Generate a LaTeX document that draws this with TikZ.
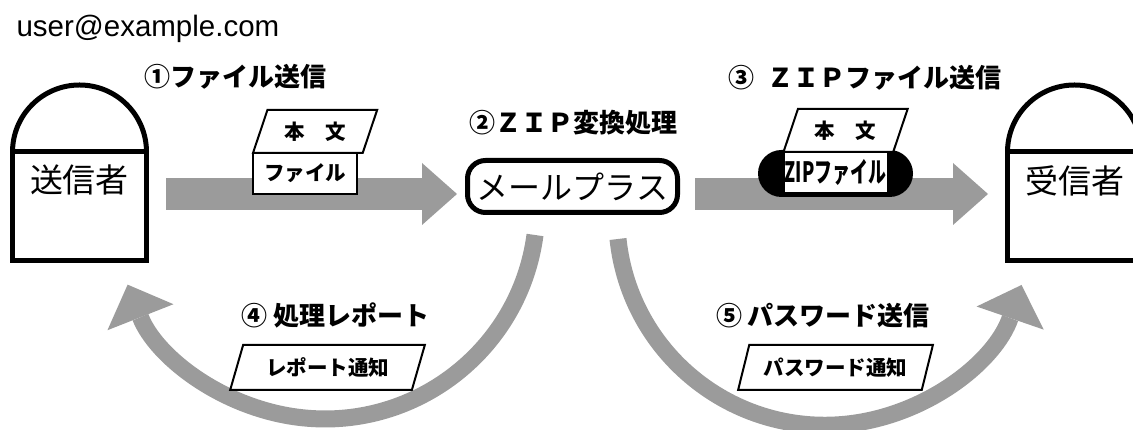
\documentclass[tikz,border=0pt]{standalone}
\usepackage{fontspec}
\setmainfont{Liberation Sans}
\newfontfamily\jp{Noto Sans CJK JP}
\usepackage{tikz}
\usetikzlibrary{positioning, arrows.meta, shapes.geometric}
\definecolor{arrowgray}{RGB}{155,155,155}
\tikzset{
person/.style={draw, line width=5pt, minimum width=134pt, minimum height=108.5pt, inner sep=0pt, outer sep=0pt}, % body of a sender or receiver
server/.style={draw, line width=5pt, rounded corners=18pt, minimum width=210pt, minimum height=52pt, font=\jp\fontsize{32}{36}\selectfont}, % the mail gateway box
bigarrow/.style={draw=arrowgray, line width=32pt, -{Triangle[length=35pt, width=62pt, line width=0pt]}}, % straight gray arrows
curvearrow/.style={draw=arrowgray, line width=17pt, -{Triangle[length=35pt, width=71pt, line width=0pt]}}, % curved gray arrows
steplabel/.style={font=\jp\bfseries\fontsize{26}{30}\selectfont}, % numbered step captions
card/.style={trapezium, draw, fill=white, line width=2pt, trapezium left angle=64.5, trapezium right angle=115.5, trapezium stretches=true, inner sep=0pt, outer sep=0pt, font=\jp\bfseries\fontsize{20.5}{24}\selectfont}, % slanted message cards
filebox/.style={draw, fill=white, line width=2pt, minimum width=104pt, minimum height=41pt, inner sep=0pt, outer sep=0pt, font=\jp\bfseries\fontsize{20.5}{24}\selectfont}, % attachment box
}

\begin{document}
\begin{tikzpicture}[x=1pt, y=1pt]
    \useasboundingbox (0,0) rectangle (1133,430);

    % Sender, gateway and receiver
    \node[anchor=base west, font=\fontsize{29.5}{33}\selectfont] (addr) at (13,393) {user@example.com};
    \node[person] (sender) at (79.5,223.75) {};
    \draw[line width=5pt] (sender.north west) arc[start angle=180, end angle=0, radius=67pt];
    \node[font=\jp\fontsize{33}{38}\selectfont] (sendertext) at ([yshift=-28pt]sender.north) {送信者};
    \node[person] (receiver) at (1074.5,223.75) {};
    \draw[line width=5pt] (receiver.north west) arc[start angle=180, end angle=0, radius=67pt];
    \node[font=\jp\fontsize{33}{38}\selectfont] (receivertext) at ([yshift=-29pt]receiver.north) {受信者};
    \node[server] (mail) at (572.5,243.5) {メールプラス};

    % Arrows
    \draw[bigarrow] ([shift={(19.5pt,12.25pt)}]sender.east) -- ([shift={(-8pt,-7.5pt)}]mail.west);
    \draw[bigarrow] ([shift={(15pt,-7.5pt)}]mail.east) -- ([shift={(-19.5pt,12.25pt)}]receiver.west);
    \draw[curvearrow] ([shift={(-37.5pt,-20pt)}]mail.south) arc[start angle=-7.6, end angle=-158.5, radius=212pt];
    \draw[curvearrow] ([shift={(45.5pt,-24pt)}]mail.south) arc[start angle=186, end angle=341, radius=208pt];

    % Step captions
    \node[steplabel] (step1) at (235.5,353.5) {①ファイル送信};
    \node[steplabel] (step2) at (573.5,307.5) {②ＺＩＰ変換処理};
    \node[steplabel] (step3) at (864.5,352) {③\hspace{0.5em}ＺＩＰファイル送信};
    \node[steplabel] (step4) at (335.5,115) {④ 処理レポート};
    \node[steplabel] (step5) at (823,114) {⑤ パスワード送信};

    % Messages
    \node[filebox] (file1) at (305,256.5) {ファイル};
    \node[card, minimum width=125pt, minimum height=43pt, anchor=bottom left corner] (body1) at (file1.north west) {本　文};
    \node[fill=black, rounded corners=23.5pt, minimum width=155pt, minimum height=47pt, inner sep=0pt] (zipcap) at (835.5,256.5) {};
    \node[filebox, font=\jp\bfseries\fontsize{28}{32}\selectfont] (zip) at (835.5,257.5) {\scalebox{0.64}[1]{ZIPファイル}};
    \node[card, minimum width=125pt, minimum height=43pt, anchor=bottom left corner] (body2) at (zip.north west) {本　文};
    \node[card, minimum width=195pt, minimum height=45pt] (report) at (327.5,62.5) {レポート通知};
    \node[card, minimum width=195pt, minimum height=45pt] (password) at (835.5,62.5) {パスワード通知};
\end{tikzpicture}
\end{document}
